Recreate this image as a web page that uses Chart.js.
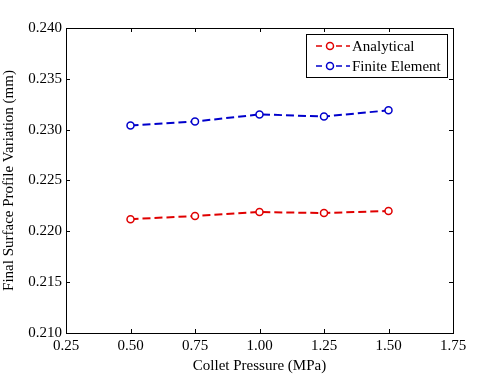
<!DOCTYPE html>
<html>
<head>
<meta charset="utf-8">
<script src="https://cdn.jsdelivr.net/npm/chart.js@4.4.1/dist/chart.umd.min.js"></script>
<style>
  html, body { margin: 0; padding: 0; background: #fff; }
</style>
</head>
<body>
<canvas id="chart" width="500" height="375"></canvas>
<script>
// values
const pressures = [0.50, 0.75, 1.00, 1.25, 1.50];
const analytical = [0.2212, 0.2215, 0.2219, 0.2218, 0.2220];
const finiteElement = [0.2304, 0.2308, 0.2315, 0.2313, 0.2319];
const xTicks = [0.25, 0.50, 0.75, 1.00, 1.25, 1.50, 1.75];
const yTicks = [0.210, 0.215, 0.220, 0.225, 0.230, 0.235, 0.240];

const RED = "rgb(224,0,0)";
const BLUE = "rgb(0,0,204)";
const FONT = "'Liberation Serif', 'Times New Roman', serif";

// box, inward ticks and legend like a matlab figure
const matlabBox = {
    id: "matlabBox",
    afterDraw(chart) {
        const ctx = chart.ctx;
        const a = chart.chartArea;
        const xs = chart.scales.x, ys = chart.scales.y;
        ctx.save();
        ctx.strokeStyle = "#000";
        ctx.lineWidth = 1;
        ctx.strokeRect(a.left + 0.5, a.top + 0.5, a.right - a.left, a.bottom - a.top);
        ctx.beginPath();
        xTicks.forEach((v) => {
            const px = Math.round(xs.getPixelForValue(v)) + 0.5;
            ctx.moveTo(px, a.bottom); ctx.lineTo(px, a.bottom - 4);
            ctx.moveTo(px, a.top); ctx.lineTo(px, a.top + 4);
        });
        yTicks.forEach((v) => {
            const py = Math.round(ys.getPixelForValue(v)) + 0.5;
            ctx.moveTo(a.left, py); ctx.lineTo(a.left + 4, py);
            ctx.moveTo(a.right, py); ctx.lineTo(a.right - 4, py);
        });
        ctx.stroke();

        // legend
        const lx = 306, ly = 34, lw = 141, lh = 43;
        ctx.fillStyle = "#fff";
        ctx.fillRect(lx, ly, lw, lh);
        ctx.strokeRect(lx + 0.5, ly + 0.5, lw, lh);
        chart.data.datasets.forEach((ds, i) => {
            const y = ly + 12 + i * 20;
            ctx.strokeStyle = ds.borderColor;
            ctx.lineWidth = 1.5;
            ctx.setLineDash([6, 4]);
            ctx.beginPath();
            ctx.moveTo(316, y); ctx.lineTo(350, y);
            ctx.stroke();
            ctx.setLineDash([]);
            ctx.beginPath();
            ctx.arc(330, y, 3.5, 0, Math.PI * 2);
            ctx.fillStyle = "#fff";
            ctx.fill();
            ctx.stroke();
            ctx.fillStyle = "#000";
            ctx.font = "15px " + FONT;
            ctx.textBaseline = "middle";
            ctx.fillText(ds.label, 352, y + 1);
        });
        ctx.restore();
    },
};

new Chart(document.getElementById("chart"), {
    type: "line",
    data: {
        datasets: [
            {
                label: "Analytical",
                data: pressures.map((p, i) => ({ x: p, y: analytical[i] })),
                borderColor: RED,
                pointBorderColor: RED,
            },
            {
                label: "Finite Element",
                data: pressures.map((p, i) => ({ x: p, y: finiteElement[i] })),
                borderColor: BLUE,
                pointBorderColor: BLUE,
            },
        ].map((ds) => ({
            ...ds,
            borderWidth: 2,
            borderDash: [8, 4],
            pointRadius: 3.5,
            pointBorderWidth: 1.5,
            pointBackgroundColor: "#fff",
            tension: 0,
        })),
    },
    options: {
        responsive: false,
        animation: false,
        layout: { padding: { left: 0, right: 47, top: 28, bottom: 0 } },
        plugins: { legend: { display: false }, tooltip: { enabled: false } },
        scales: {
            x: {
                type: "linear",
                min: 0.25,
                max: 1.75,
                afterBuildTicks: (s) => { s.ticks = xTicks.map((v) => ({ value: v })); },
                afterFit: (s) => { s.height = 42; },
                grid: { display: false, drawTicks: false },
                border: { display: false },
                ticks: {
                    color: "#000",
                    padding: 4,
                    maxRotation: 0,
                    font: { family: FONT, size: 15 },
                    callback: (v) => v.toFixed(2),
                },
                title: {
                    display: true,
                    text: "Collet Pressure (MPa)",
                    color: "#000",
                    padding: { top: 0, bottom: 0 },
                    font: { family: FONT, size: 15 },
                },
            },
            y: {
                min: 0.21,
                max: 0.24,
                afterBuildTicks: (s) => { s.ticks = yTicks.map((v) => ({ value: v })); },
                afterFit: (s) => { s.width = 66; },
                grid: { display: false, drawTicks: false },
                border: { display: false },
                ticks: {
                    color: "#000",
                    padding: 4,
                    font: { family: FONT, size: 15 },
                    callback: (v) => v.toFixed(3),
                },
                title: {
                    display: true,
                    text: "Final Surface Profile Variation (mm)",
                    color: "#000",
                    padding: { top: 0, bottom: 2 },
                    font: { family: FONT, size: 15 },
                },
            },
        },
    },
    plugins: [matlabBox],
});
</script>
</body>
</html>
